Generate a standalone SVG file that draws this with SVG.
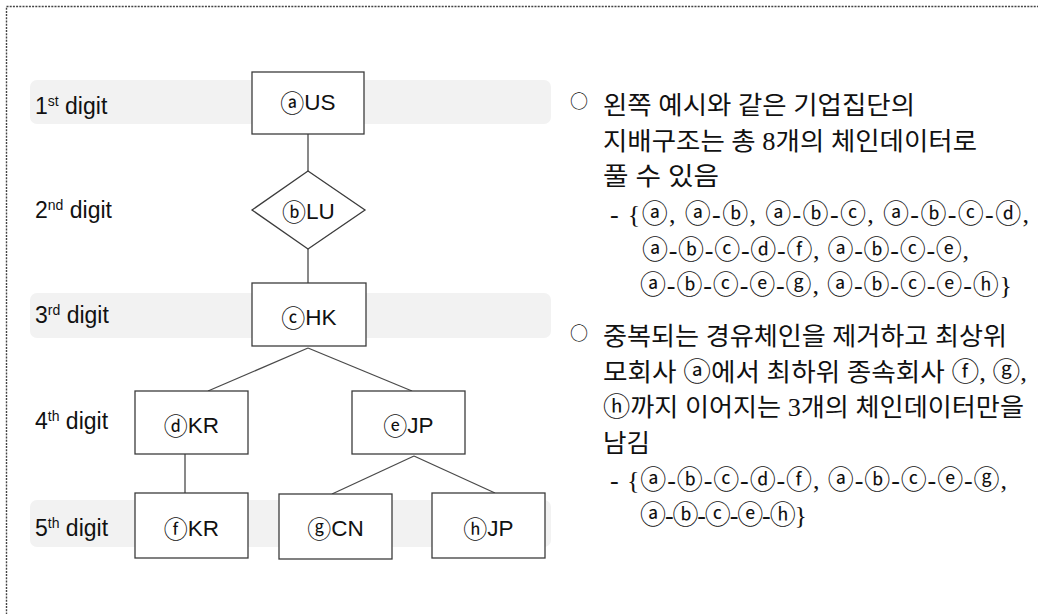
<svg xmlns="http://www.w3.org/2000/svg" width="1038" height="614" viewBox="0 0 1038 614">
  <style>
    .band{fill:#f2f2f2}
    .box{fill:#fff;stroke:#3c3c3c;stroke-width:1.3}
    .lbl{font-family:"Liberation Sans",Arial,sans-serif;font-size:23px;fill:#111}
    .sup{font-size:14px}
    .nt{font-family:"Liberation Sans","Noto Sans CJK KR",sans-serif;font-size:22.5px;fill:#111;text-anchor:middle}
    .nc{font-family:"Noto Sans CJK KR",sans-serif;font-size:24px}
    .cc{font-family:"Noto Sans CJK KR",sans-serif;font-size:26px}
    .ko{font-family:"Liberation Serif","Noto Sans CJK KR",serif;font-size:25px;fill:#111}
    .li{font-family:"Liberation Serif","Noto Sans CJK KR",serif;font-size:26px;fill:#111}
    .bul{font-family:"Noto Sans CJK KR",sans-serif;font-size:18px;fill:#111}
    #links line{stroke:#4a4a4a;stroke-width:1.3}
  </style>

  <rect width="1038" height="614" fill="#fff"/>
  <!-- dotted frame, open to the right and bottom -->
  <rect x="6.5" y="6.5" width="1100" height="700" fill="none" stroke="#444" stroke-width="1.4" stroke-dasharray="2 1.2"/>

  <!-- shaded level bands -->
  <g id="bands">
    <rect class="band" x="30" y="80" width="521" height="44" rx="7"/>
    <rect class="band" x="30" y="293" width="521" height="45" rx="7"/>
    <rect class="band" x="30" y="500" width="521" height="47" rx="7"/>
  </g>

  <!-- level labels -->
  <g id="levels">
    <text class="lbl" x="35" y="114">1<tspan class="sup" dy="-8">st</tspan><tspan dy="8"> digit</tspan></text>
    <text class="lbl" x="35" y="218">2<tspan class="sup" dy="-8">nd</tspan><tspan dy="8"> digit</tspan></text>
    <text class="lbl" x="35" y="323">3<tspan class="sup" dy="-8">rd</tspan><tspan dy="8"> digit</tspan></text>
    <text class="lbl" x="35" y="429">4<tspan class="sup" dy="-8">th</tspan><tspan dy="8"> digit</tspan></text>
    <text class="lbl" x="35" y="536">5<tspan class="sup" dy="-8">th</tspan><tspan dy="8"> digit</tspan></text>
  </g>

  <!-- connectors -->
  <g id="links">
    <line x1="308" y1="134" x2="308" y2="171"/>
    <line x1="308" y1="249" x2="308" y2="283"/>
    <line x1="308" y1="348" x2="208" y2="391"/>
    <line x1="308" y1="348" x2="412" y2="391"/>
    <line x1="185" y1="454" x2="185" y2="493"/>
    <line x1="414" y1="456" x2="332" y2="494"/>
    <line x1="414" y1="456" x2="495" y2="493"/>
  </g>

  <!-- nodes -->
  <g id="node-a">
    <rect class="box" x="252" y="72" width="112" height="62"/>
    <text class="nt" x="308" y="110"><tspan class="nc" dy="2">ⓐ</tspan><tspan dy="-2">US</tspan></text>
  </g>
  <g id="node-b">
    <polygon class="box" points="308,171 365,210 308,249 252,210"/>
    <text class="nt" x="308.5" y="219"><tspan class="nc" dy="2">ⓑ</tspan><tspan dy="-2">LU</tspan></text>
  </g>
  <g id="node-c">
    <rect class="box" x="252" y="283" width="114" height="63"/>
    <text class="nt" x="309" y="325"><tspan class="nc" dy="2">ⓒ</tspan><tspan dy="-2">HK</tspan></text>
  </g>
  <g id="node-d">
    <rect class="box" x="135" y="391" width="113" height="63"/>
    <text class="nt" x="191.5" y="432.5"><tspan class="nc" dy="2">ⓓ</tspan><tspan dy="-2">KR</tspan></text>
  </g>
  <g id="node-e">
    <rect class="box" x="352" y="391" width="113" height="63"/>
    <text class="nt" x="408.5" y="432.5"><tspan class="nc" dy="2">ⓔ</tspan><tspan dy="-2">JP</tspan></text>
  </g>
  <g id="node-f">
    <rect class="box" x="135" y="493" width="113" height="65"/>
    <text class="nt" x="191.5" y="535.5"><tspan class="nc" dy="2">ⓕ</tspan><tspan dy="-2">KR</tspan></text>
  </g>
  <g id="node-g">
    <rect class="box" x="279" y="494" width="113" height="65"/>
    <text class="nt" x="335.5" y="536"><tspan class="nc" dy="2">ⓖ</tspan><tspan dy="-2">CN</tspan></text>
  </g>
  <g id="node-h">
    <rect class="box" x="432" y="493" width="113" height="65"/>
    <text class="nt" x="488.5" y="536"><tspan class="nc" dy="2">ⓗ</tspan><tspan dy="-2">JP</tspan></text>
  </g>

  <!-- explanatory notes -->
  <g id="notes">
    <text class="bul" x="570" y="108">○</text>
    <text class="ko" x="603" y="114.3" textLength="312" lengthAdjust="spacingAndGlyphs">왼쪽 예시와 같은 기업집단의</text>
    <text class="ko" x="603" y="149.8" textLength="374" lengthAdjust="spacingAndGlyphs">지배구조는 총 8개의 체인데이터로</text>
    <text class="ko" x="603" y="185.3" textLength="116" lengthAdjust="spacingAndGlyphs">풀 수 있음</text>
    <text class="li" x="610" y="223.3" textLength="419" lengthAdjust="spacing">- {ⓐ, ⓐ-ⓑ, ⓐ-ⓑ-ⓒ, ⓐ-ⓑ-ⓒ-ⓓ,</text>
    <text class="li" x="642" y="259.3" textLength="327" lengthAdjust="spacing">ⓐ-ⓑ-ⓒ-ⓓ-ⓕ, ⓐ-ⓑ-ⓒ-ⓔ,</text>
    <text class="li" x="640" y="294.3" textLength="372" lengthAdjust="spacing">ⓐ-ⓑ-ⓒ-ⓔ-ⓖ, ⓐ-ⓑ-ⓒ-ⓔ-ⓗ}</text>

    <text class="bul" x="570" y="339.5">○</text>
    <text class="ko" x="603" y="344.8" textLength="404" lengthAdjust="spacingAndGlyphs">중복되는 경유체인을 제거하고 최상위</text>
    <text class="ko" x="603" y="380.8" textLength="424" lengthAdjust="spacingAndGlyphs">모회사 <tspan class="cc">ⓐ</tspan>에서 최하위 종속회사 <tspan class="cc">ⓕ</tspan>, <tspan class="cc">ⓖ</tspan>,</text>
    <text class="ko" x="603" y="415.8" textLength="421" lengthAdjust="spacingAndGlyphs"><tspan class="cc">ⓗ</tspan>까지 이어지는 3개의 체인데이터만을</text>
    <text class="ko" x="603" y="451.8" textLength="47" lengthAdjust="spacingAndGlyphs">남김</text>
    <text class="li" x="610" y="489.3" textLength="397" lengthAdjust="spacing">- {ⓐ-ⓑ-ⓒ-ⓓ-ⓕ, ⓐ-ⓑ-ⓒ-ⓔ-ⓖ,</text>
    <text class="li" x="640" y="524.3" textLength="167" lengthAdjust="spacing">ⓐ-ⓑ-ⓒ-ⓔ-ⓗ}</text>
  </g>
</svg>
